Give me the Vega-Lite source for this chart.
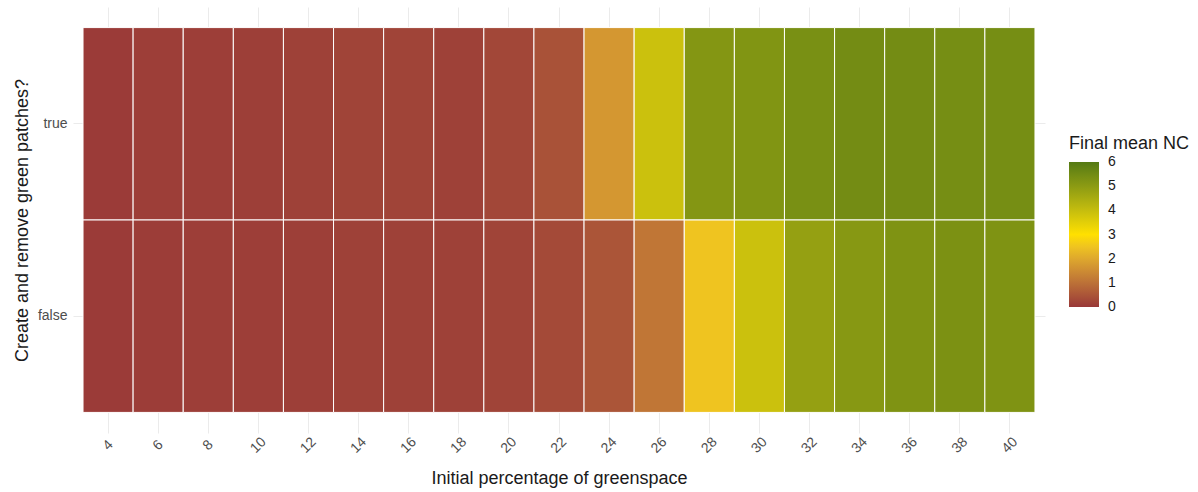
{
  "$schema": "https://vega.github.io/schema/vega-lite/v6.json",
  "width": 972,
  "height": 426,
  "autosize": "none",
  "padding": {"left": 73, "top": 7, "right": 153, "bottom": 59},
  "background": "white",
  "config": {
    "view": {"stroke": null},
    "font": "Liberation Sans",
    "axis": {
      "domain": false,
      "ticks": false,
      "grid": true,
      "zindex": 0,
      "gridColor": "#ebebeb",
      "gridWidth": 1,
      "labelFont": "Liberation Sans",
      "titleFont": "Liberation Sans",
      "labelColor": "#4d4d4d",
      "titleColor": "#1a1a1a",
      "titleFontWeight": "normal",
      "titleFontSize": 18,
      "labelFontSize": 14
    }
  },
  "data": {
    "values": [
      {"pct": 4, "patches": "true", "nc": 0.05},
      {"pct": 6, "patches": "true", "nc": 0.1},
      {"pct": 8, "patches": "true", "nc": 0.1},
      {"pct": 10, "patches": "true", "nc": 0.12},
      {"pct": 12, "patches": "true", "nc": 0.15},
      {"pct": 14, "patches": "true", "nc": 0.2},
      {"pct": 16, "patches": "true", "nc": 0.2},
      {"pct": 18, "patches": "true", "nc": 0.15},
      {"pct": 20, "patches": "true", "nc": 0.25},
      {"pct": 22, "patches": "true", "nc": 0.45},
      {"pct": 24, "patches": "true", "nc": 1.7},
      {"pct": 26, "patches": "true", "nc": 3.9},
      {"pct": 28, "patches": "true", "nc": 5.15},
      {"pct": 30, "patches": "true", "nc": 5.2},
      {"pct": 32, "patches": "true", "nc": 5.35},
      {"pct": 34, "patches": "true", "nc": 5.45},
      {"pct": 36, "patches": "true", "nc": 5.45},
      {"pct": 38, "patches": "true", "nc": 5.4},
      {"pct": 40, "patches": "true", "nc": 5.4},
      {"pct": 4, "patches": "false", "nc": 0.05},
      {"pct": 6, "patches": "false", "nc": 0.08},
      {"pct": 8, "patches": "false", "nc": 0.1},
      {"pct": 10, "patches": "false", "nc": 0.1},
      {"pct": 12, "patches": "false", "nc": 0.12},
      {"pct": 14, "patches": "false", "nc": 0.15},
      {"pct": 16, "patches": "false", "nc": 0.15},
      {"pct": 18, "patches": "false", "nc": 0.15},
      {"pct": 20, "patches": "false", "nc": 0.2},
      {"pct": 22, "patches": "false", "nc": 0.3},
      {"pct": 24, "patches": "false", "nc": 0.5},
      {"pct": 26, "patches": "false", "nc": 1.1},
      {"pct": 28, "patches": "false", "nc": 2.5},
      {"pct": 30, "patches": "false", "nc": 3.9},
      {"pct": 32, "patches": "false", "nc": 4.85},
      {"pct": 34, "patches": "false", "nc": 5.1},
      {"pct": 36, "patches": "false", "nc": 5.25},
      {"pct": 38, "patches": "false", "nc": 5.3},
      {"pct": 40, "patches": "false", "nc": 5.25}
    ]
  },
  "mark": {"type": "rect", "stroke": "white", "strokeWidth": 1},
  "encoding": {
    "x": {
      "field": "pct",
      "type": "ordinal",
      "sort": "ascending",
      "scale": {"paddingInner": 0, "paddingOuter": 0.2},
      "axis": {
        "title": "Initial percentage of greenspace",
        "labelAngle": -45,
        "labelAlign": "center",
        "labelBaseline": "middle",
        "labelPadding": 12,
        "bandPosition": 0.5,
        "titlePadding": 14
      }
    },
    "y": {
      "field": "patches",
      "type": "nominal",
      "sort": ["true", "false"],
      "scale": {"paddingInner": 0, "paddingOuter": 0.107},
      "axis": {
        "title": "Create and remove green patches?",
        "labelPadding": 6,
        "bandPosition": 0.5,
        "titleX": -42
      }
    },
    "fill": {
      "field": "nc",
      "type": "quantitative",
      "title": "Final mean NC",
      "scale": {
        "domain": [0, 3, 6],
        "range": ["#993838", "#ffe000", "#557a14"],
        "interpolate": "lab"
      },
      "legend": {
        "orient": "none",
        "legendX": 996,
        "legendY": 128,
        "direction": "vertical",
        "gradientLength": 145,
        "gradientThickness": 30,
        "gradientStrokeWidth": 0,
        "titleFont": "Liberation Sans",
        "titleFontSize": 18,
        "titleFontWeight": "normal",
        "titleColor": "#1a1a1a",
        "titlePadding": 9,
        "labelFont": "Liberation Sans",
        "labelFontSize": 14,
        "labelColor": "#1a1a1a",
        "labelOffset": 9,
        "values": [0, 1, 2, 3, 4, 5, 6],
        "encode": {
          "labels": {
            "update": {"baseline": {"value": "middle"}}
          }
        }
      }
    }
  }
}
